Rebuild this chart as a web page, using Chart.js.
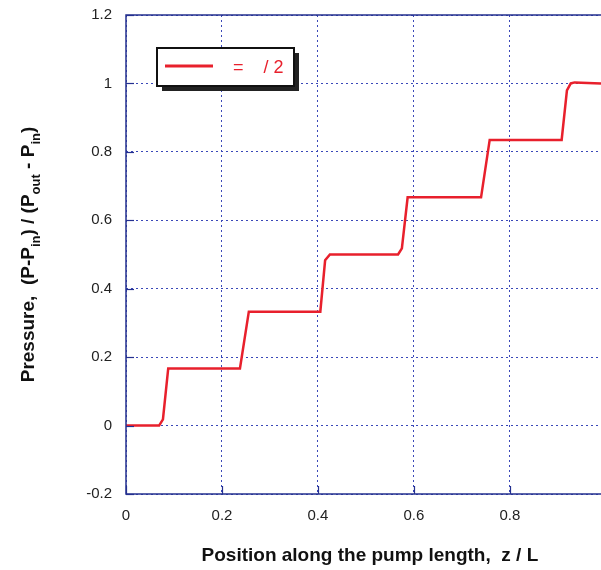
<!DOCTYPE html>
<html>
<head>
<meta charset="utf-8">
<script src="https://cdn.jsdelivr.net/npm/chart.js@4"></script>
<style>
html,body{margin:0;padding:0;background:#fff;}
#wrap{width:601px;height:570px;position:relative;}
</style>
</head>
<body>
<div id="wrap"><canvas id="c" width="601" height="570"></canvas></div>
<script>
// ---- data ----
const positionZ = [0, 0.069, 0.077, 0.088, 0.2375, 0.256, 0.405, 0.415, 0.425, 0.567, 0.575, 0.587, 0.740, 0.758, 0.908, 0.919, 0.927, 0.935, 0.99];
const pressure  = [0, 0, 0.018, 0.167, 0.167, 0.333, 0.333, 0.483, 0.5, 0.5, 0.518, 0.667, 0.667, 0.835, 0.835, 0.98, 1.0, 1.003, 1.0];
const xTicks = [0, 0.2, 0.4, 0.6, 0.8];
const yTicks = [-0.2, 0, 0.2, 0.4, 0.6, 0.8, 1, 1.2];
const seriesLabel = "=    / 2";
const xTitle = "Position along the pump length,  z / L";
const yTitleParts = [
  ["Pressure,  (P-P", false], ["in", true], [") / (P", false], ["out", true], [" - P", false], ["in", true], [")", false]
];

const AXIS = '#24308f';
const GRID = '#3a48b8';
const RED = '#e8202c';
const FONT = '"Liberation Sans", Arial, sans-serif';

const points = positionZ.map((x, i) => ({x: x, y: pressure[i]}));

const decor = {
  id: 'decor',
  afterDraw(chart) {
    const ctx = chart.ctx;
    const xs = chart.scales.x, ys = chart.scales.y;
    const a = chart.chartArea;
    ctx.save();
    // solid borders: left, bottom, top
    ctx.strokeStyle = AXIS; ctx.lineWidth = 1.5; ctx.setLineDash([]);
    ctx.beginPath();
    ctx.moveTo(a.right, a.top); ctx.lineTo(a.left, a.top);
    ctx.lineTo(a.left, a.bottom); ctx.lineTo(a.right, a.bottom);
    ctx.stroke();
    // inward ticks
    ctx.lineWidth = 1.2;
    yTicks.forEach(v => {
      const py = Math.round(ys.getPixelForValue(v)) + 0.5;
      ctx.beginPath(); ctx.moveTo(a.left, py); ctx.lineTo(a.left + 8, py); ctx.stroke();
    });
    xTicks.forEach(v => {
      const px = Math.round(xs.getPixelForValue(v)) + 0.5;
      ctx.beginPath(); ctx.moveTo(px, a.bottom); ctx.lineTo(px, a.bottom - 8); ctx.stroke();
    });
    // legend box
    const bx = a.left + 31, by = a.top + 33, bw = 137, bh = 38;
    ctx.fillStyle = '#222';
    ctx.fillRect(bx + 5, by + 5, bw, bh);
    ctx.fillStyle = '#fff';
    ctx.fillRect(bx, by, bw, bh);
    ctx.strokeStyle = '#111'; ctx.lineWidth = 2;
    ctx.strokeRect(bx, by, bw, bh);
    ctx.strokeStyle = RED; ctx.lineWidth = 3;
    ctx.beginPath(); ctx.moveTo(bx + 8, by + 18); ctx.lineTo(bx + 56, by + 18); ctx.stroke();
    ctx.fillStyle = RED;
    ctx.font = '18px ' + FONT;
    ctx.textBaseline = 'alphabetic'; ctx.textAlign = 'left';
    ctx.fillText(seriesLabel, bx + 76, by + 25);
    // x title
    ctx.fillStyle = '#111';
    ctx.font = 'bold 19px ' + FONT;
    ctx.textAlign = 'center'; ctx.textBaseline = 'middle';
    const cx = (xs.getPixelForValue(0) + xs.getPixelForValue(1)) / 2 + 4;
    ctx.fillText(xTitle, cx, 556);
    // y title with subscripts
    const big = 'bold 19px ' + FONT, small = 'bold 13px ' + FONT;
    let total = 0;
    yTitleParts.forEach(([t, sub]) => { ctx.font = sub ? small : big; total += ctx.measureText(t).width; });
    ctx.translate(34, (a.top + a.bottom) / 2);
    ctx.rotate(-Math.PI / 2);
    ctx.textAlign = 'left'; ctx.textBaseline = 'alphabetic';
    let xpos = -total / 2;
    yTitleParts.forEach(([t, sub]) => {
      ctx.font = sub ? small : big;
      ctx.fillText(t, xpos, sub ? 6 : 0);
      xpos += ctx.measureText(t).width;
    });
    ctx.restore();
  }
};

new Chart(document.getElementById('c'), {
  type: 'scatter',
  data: {
    datasets: [{
      label: seriesLabel,
      data: points,
      showLine: true,
      borderColor: RED,
      backgroundColor: RED,
      borderWidth: 2.5,
      pointRadius: 0,
      tension: 0,
      clip: 3
    }]
  },
  options: {
    responsive: false,
    animation: false,
    layout: { padding: { top: 15, right: 0, left: 0, bottom: 0 } },
    plugins: { legend: { display: false }, tooltip: { enabled: false } },
    scales: {
      x: {
        type: 'linear', min: 0, max: 0.99,
        afterFit(s) { s.height = 76; s.paddingLeft = 0; s.paddingRight = 0; },
        afterBuildTicks(s) { s.ticks = xTicks.map(v => ({value: v})); },
        ticks: { color: '#222', font: { size: 15, family: FONT }, padding: 13,
                 callback: v => String(Math.round(v * 10) / 10) },
        grid: { color: GRID, lineWidth: 1, drawTicks: false },
        border: { display: false, dash: [2, 3] },
        title: { display: false }
      },
      y: {
        type: 'linear', min: -0.2, max: 1.2,
        afterFit(s) { s.width = 126; s.paddingTop = 0; s.paddingBottom = 0; },
        afterBuildTicks(s) { s.ticks = yTicks.map(v => ({value: v})); },
        ticks: { color: '#222', font: { size: 15, family: FONT }, padding: 14,
                 callback: v => String(Math.round(v * 10) / 10) },
        grid: { color: GRID, lineWidth: 1, drawTicks: false },
        border: { display: false, dash: [2, 3] },
        title: { display: false }
      }
    }
  },
  plugins: [decor]
});
</script>
</body>
</html>
